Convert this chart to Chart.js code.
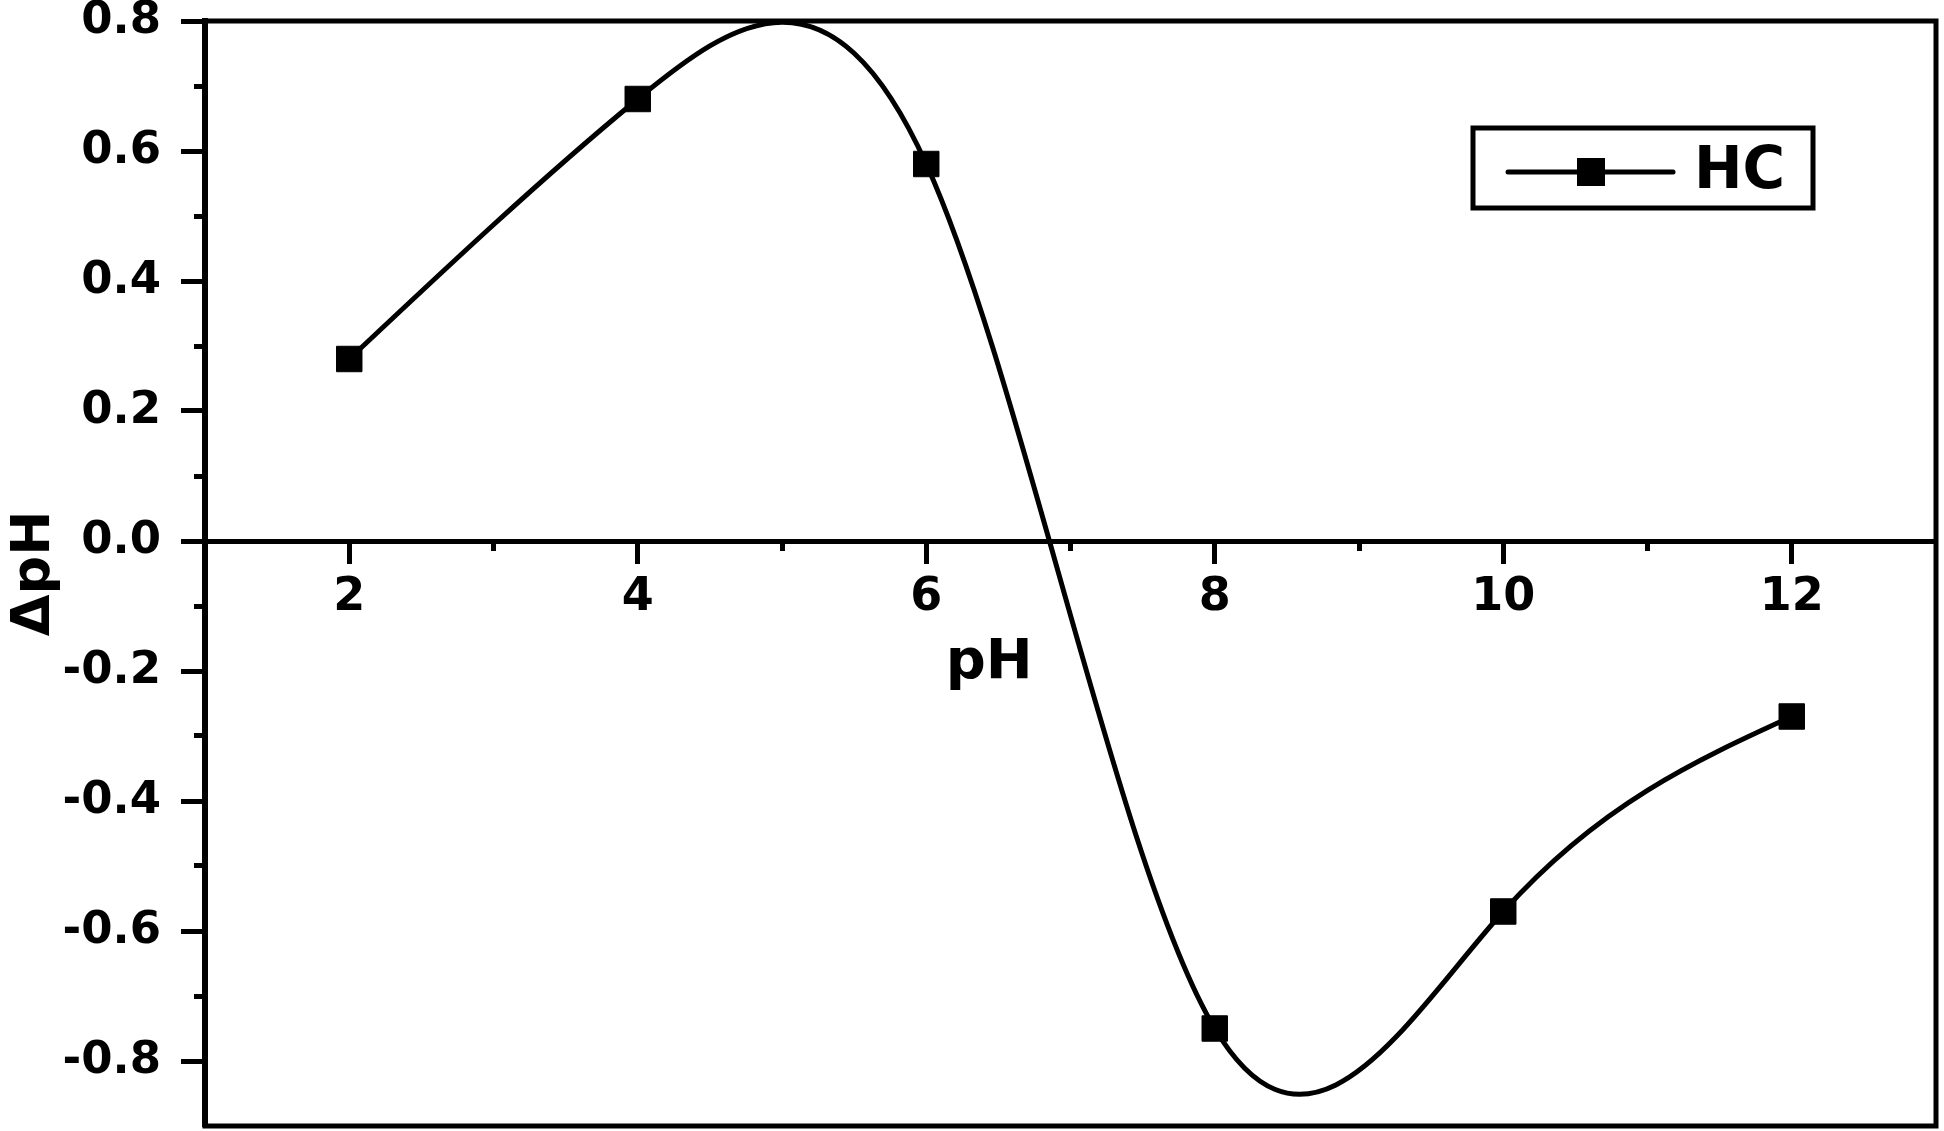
<!DOCTYPE html>
<html>
<head>
<meta charset="utf-8">
<script src="https://cdn.jsdelivr.net/npm/chart.js@4.4.1/dist/chart.umd.min.js"></script>
<style>
  html, body { margin: 0; padding: 0; background: #fff; overflow: hidden; }
  canvas { display: block; }
</style>
</head>
<body>
<canvas id="phchart" width="1944" height="1131"></canvas>
<script>
// data
const phValues = [2, 4, 6, 8, 10, 12];
const deltaPH = [0.28, 0.68, 0.58, -0.75, -0.57, -0.27];
const seriesName = 'HC';

// axis ticks
const xMajorTicks = [2, 4, 6, 8, 10, 12];
const xMinorTicks = [3, 5, 7, 9, 11];
const yMajorTicks = [-0.8, -0.6, -0.4, -0.2, 0, 0.2, 0.4, 0.6, 0.8];
const yMinorTicks = [-0.7, -0.5, -0.3, -0.1, 0.1, 0.3, 0.5, 0.7];

const xTitle = 'pH';
const yTitle = 'ΔpH';

const FONT = 'DejaVu Sans';

// Origin style "spline" connection: natural cubic spline through the points,
// written into the bezier control points chart.js already draws the line with
const splineConnect = {
  id: 'splineConnect',
  beforeDatasetDraw(chart, args) {
    const meta = args.meta;
    const line = meta.dataset;
    const pts = meta.data;
    const n = pts.length;
    if (!line || n < 3) return;
    line.updateControlPoints(chart.chartArea, 'x');

    const h = [];
    for (let i = 0; i < n - 1; i++) h.push(pts[i + 1].x - pts[i].x);

    // second derivatives, natural ends (tridiagonal solve)
    const a = [], b = [], c = [], r = [];
    for (let i = 1; i < n - 1; i++) {
      a.push(h[i - 1]);
      b.push(2 * (h[i - 1] + h[i]));
      c.push(h[i]);
      r.push(6 * ((pts[i + 1].y - pts[i].y) / h[i] - (pts[i].y - pts[i - 1].y) / h[i - 1]));
    }
    const k = b.length;
    for (let i = 1; i < k; i++) {
      const w = a[i] / b[i - 1];
      b[i] -= w * c[i - 1];
      r[i] -= w * r[i - 1];
    }
    const m = new Array(n).fill(0);
    m[k] = r[k - 1] / b[k - 1];
    for (let i = k - 2; i >= 0; i--) m[i + 1] = (r[i] - c[i] * m[i + 2]) / b[i];

    for (let i = 0; i < n - 1; i++) {
      const p0 = pts[i], p1 = pts[i + 1], hi = h[i];
      const s = (p1.y - p0.y) / hi;
      const d0 = s - hi * (2 * m[i] + m[i + 1]) / 6;
      const d1 = s + hi * (m[i] + 2 * m[i + 1]) / 6;
      p0.cp2x = p0.x + hi / 3;
      p0.cp2y = p0.y + d0 * hi / 3;
      p1.cp1x = p1.x - hi / 3;
      p1.cp1y = p1.y - d1 * hi / 3;
    }
  }
};

// plot frame (box round the chart area)
const frame = {
  id: 'frame',
  afterDraw(chart) {
    const {ctx, chartArea: a} = chart;
    ctx.save();
    ctx.strokeStyle = '#000';
    ctx.lineWidth = 5;
    ctx.strokeRect(a.left, a.top, a.right - a.left, a.bottom - a.top);
    ctx.restore();
  }
};

// x axis title sits under the tick labels of the zero line
const xAxisTitle = {
  id: 'xAxisTitle',
  afterDraw(chart) {
    const {ctx, chartArea: a, scales} = chart;
    const y0 = scales.y.getPixelForValue(0);
    ctx.save();
    ctx.fillStyle = '#000';
    ctx.font = 'bold 56px ' + FONT;
    ctx.textAlign = 'center';
    ctx.textBaseline = 'middle';
    ctx.fillText(xTitle, a.left + (a.right - a.left) * 0.453, y0 + 122);
    ctx.restore();
  }
};

// boxed legend: line + square marker + name
const boxedLegend = {
  id: 'boxedLegend',
  afterDraw(chart) {
    const {ctx, chartArea: a} = chart;
    const ds = chart.data.datasets[0];
    const bx = a.right - 463, by = a.top + 107, bw = 340, bh = 80;
    const cy = by + 44;
    ctx.save();
    ctx.strokeStyle = '#000';
    ctx.lineWidth = 5;
    ctx.strokeRect(bx, by, bw, bh);
    ctx.lineWidth = ds.borderWidth;
    ctx.lineCap = 'round';
    ctx.beginPath();
    ctx.moveTo(bx + 35, cy);
    ctx.lineTo(bx + 200, cy);
    ctx.stroke();
    const s = 28;
    ctx.fillStyle = '#000';
    ctx.fillRect(bx + 118 - s / 2, cy - s / 2, s, s);
    ctx.font = 'bold 58px ' + FONT;
    ctx.textAlign = 'left';
    ctx.textBaseline = 'middle';
    ctx.fillText(ds.label, bx + 221, cy + 1);
    ctx.restore();
  }
};

const ctx = document.getElementById('phchart');

new Chart(ctx, {
  type: 'line',
  data: {
    datasets: [{
      label: seriesName,
      data: phValues.map((x, i) => ({x: x, y: deltaPH[i]})),
      borderColor: '#000',
      backgroundColor: '#000',
      borderWidth: 5,
      tension: 0.4,
      pointStyle: 'rect',
      pointRadius: 18,
      pointHoverRadius: 18,
      pointBorderWidth: 1,
      fill: false
    }]
  },
  options: {
    responsive: false,
    animation: false,
    layout: { autoPadding: false, padding: { left: 0, right: 8, top: 21, bottom: 5 } },
    plugins: {
      legend: { display: false },
      tooltip: { enabled: false }
    },
    scales: {
      x: {
        type: 'linear',
        min: 1,
        max: 13,
        position: { y: 0 },
        afterBuildTicks: (s) => { s.ticks = xMajorTicks.map(v => ({value: v})); },
        afterFit: (s) => { s.paddingLeft = 0; s.paddingRight = 0; },
        border: { display: true, color: '#000', width: 5 },
        grid: { drawOnChartArea: false, color: '#000', tickLength: 20, tickWidth: 5 },
        ticks: {
          color: '#000',
          padding: 14,
          font: { family: FONT, size: 46, weight: 'bold', lineHeight: 1 },
          callback: (v) => String(v)
        }
      },
      xMinor: {
        type: 'linear',
        axis: 'x',
        min: 1,
        max: 13,
        position: { y: 0 },
        afterBuildTicks: (s) => { s.ticks = xMinorTicks.map(v => ({value: v})); },
        afterFit: (s) => { s.paddingLeft = 0; s.paddingRight = 0; },
        border: { display: false },
        grid: { drawOnChartArea: false, color: '#000', tickLength: 10, tickWidth: 5 },
        ticks: { display: false }
      },
      y: {
        type: 'linear',
        min: -0.9,
        max: 0.8,
        position: 'left',
        afterBuildTicks: (s) => { s.ticks = yMajorTicks.map(v => ({value: v})); },
        afterFit: (s) => { s.width = 205; s.paddingTop = 0; s.paddingBottom = 0; },
        border: { display: true, color: '#000', width: 6 },
        grid: { drawOnChartArea: false, color: '#000', tickLength: 24, tickWidth: 5 },
        ticks: {
          color: '#000',
          padding: 20,
          font: { family: FONT, size: 45, weight: 'bold', lineHeight: 1 },
          callback: (v) => v.toFixed(1)
        },
        title: {
          display: true,
          text: yTitle,
          color: '#000',
          font: { family: FONT, size: 54, weight: 'bold', lineHeight: 1.1 },
          padding: { top: 5, bottom: 0 }
        }
      },
      yMinor: {
        type: 'linear',
        axis: 'y',
        min: -0.9,
        max: 0.8,
        position: { x: 1 },
        afterBuildTicks: (s) => { s.ticks = yMinorTicks.map(v => ({value: v})); },
        afterFit: (s) => { s.paddingTop = 0; s.paddingBottom = 0; },
        border: { display: false },
        grid: { drawOnChartArea: false, color: '#000', tickLength: 11, tickWidth: 5 },
        ticks: { display: false }
      }
    }
  },
  plugins: [splineConnect, frame, xAxisTitle, boxedLegend]
});
</script>
</body>
</html>
